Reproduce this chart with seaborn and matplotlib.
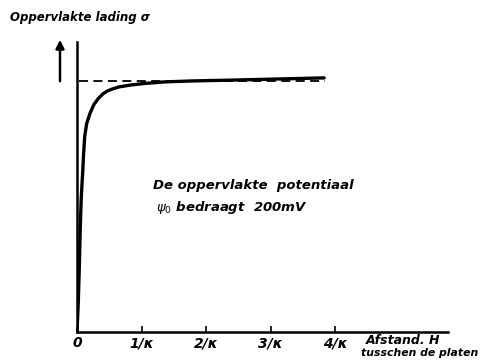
import matplotlib
matplotlib.use("Agg")
import matplotlib.pyplot as plt
import seaborn as sns
import pandas as pd

# Data (x in units of 1/kappa, y relative to sigma_0)
afstand = [0.0, 0.02, 0.035, 0.05, 0.065, 0.08, 0.09, 0.10, 0.12, 0.15, 0.20, 0.26, 0.33, 0.40,
           0.47, 0.55, 0.65, 0.84, 1.05, 1.35, 1.8, 2.36, 3.0, 3.83]
lading = [0.0, 0.12, 0.25, 0.41, 0.53, 0.60, 0.645, 0.70, 0.78, 0.83, 0.87, 0.905, 0.93, 0.948,
          0.96, 0.968, 0.976, 0.984, 0.99, 0.996, 1.0, 1.003, 1.007, 1.012]
grens_x = [0.03, 3.85]
grens_y = [1.0, 1.0]
tick_pos = [0, 1, 2, 3, 4]
tick_labels = ["0", "1/κ", "2/κ", "3/κ", "4/κ"]

sns.set_style("white")
plt.rcParams['font.family'] = ['DejaVu Sans']
plt.rcParams['text.color'] = 'black'
plt.rcParams['xtick.color'] = 'black'

fig = plt.figure(figsize=(4.85, 3.64), dpi=100)
ax = fig.add_axes([77/485, 32/364, 371/485, 290/364])

df = pd.DataFrame({"H": afstand, "sigma": lading})
sns.lineplot(data=df, x="H", y="sigma", ax=ax, color="black", lw=2.4, sort=False)
ax.plot(grens_x, grens_y, color="black", lw=1.3, ls=(0, (5, 3)))

ax.set_xlim(0, 5.75)
ax.set_ylim(0, 1.155)
for s in ["top", "right"]:
    ax.spines[s].set_visible(False)
for s in ["left", "bottom"]:
    ax.spines[s].set_linewidth(1.8)
    ax.spines[s].set_color("black")
ax.set_xlabel("")
ax.set_ylabel("")
ax.set_yticks([])
ax.set_xticks(tick_pos)
ax.set_xticklabels(tick_labels, fontstyle="italic", fontweight="bold", fontsize=10, color="black")
ax.tick_params(axis="x", direction="in", length=4, width=1.2, pad=3, bottom=True, colors="black")

fig.text(10/485, 1 - 17/364, "Oppervlakte lading σ", fontsize=8.5, fontstyle="italic",
         fontweight="bold", va="center", ha="left")
fig.text(366/485, 1 - 340/364, "Afstand. H", fontsize=9, fontstyle="italic",
         fontweight="bold", va="center", ha="left")
fig.text(361/485, 1 - 353/364, "tusschen de platen", fontsize=7.8, fontstyle="italic",
         fontweight="bold", va="center", ha="left")
fig.text(153/485, 1 - 186/364, "De oppervlakte  potentiaal", fontsize=9.5, fontstyle="italic",
         fontweight="bold", va="center", ha="left")
fig.text(156/485, 1 - 208/364, "$\\psi_0$ bedraagt  200mV", fontsize=9.5, fontstyle="italic",
         fontweight="bold", va="center", ha="left")

fig.patches.append(matplotlib.patches.FancyArrowPatch(
    (60/485, 1 - 84/364), (60/485, 1 - 37/364), transform=fig.transFigure,
    arrowstyle="-|>,head_length=5,head_width=2.5", lw=1.8, color="black"))

fig.savefig("out.png", dpi=100)
